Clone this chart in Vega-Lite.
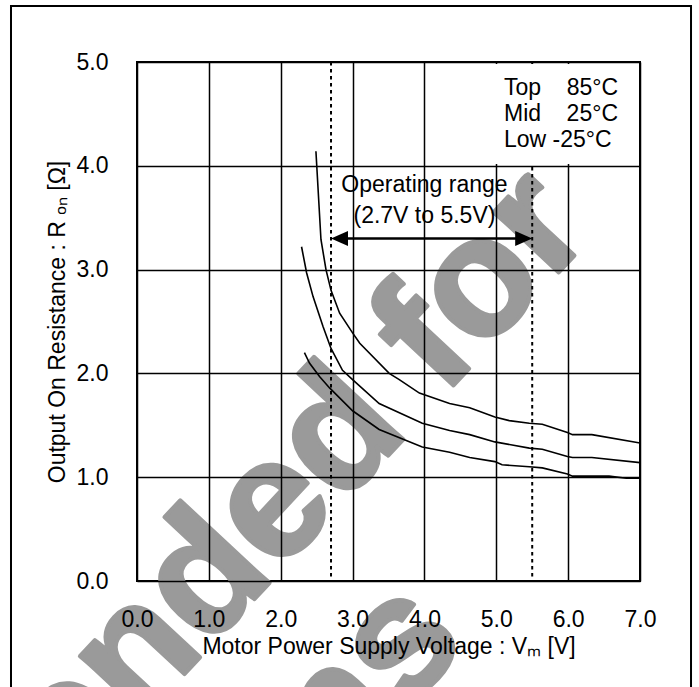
{
  "$schema": "https://vega.github.io/schema/vega-lite/v6.json",
  "width": 503,
  "height": 519,
  "autosize": {"type": "none"},
  "padding": {"left": 137, "top": 62, "right": 59, "bottom": 106},
  "background": "white",
  "config": {
    "font": "Liberation Sans",
    "view": {"stroke": "black", "strokeWidth": 2},
    "text": {"font": "Liberation Sans", "color": "black"}
  },
  "datasets": {
    "curves": [
      {"series": "Top\u00a0\u00a0\u00a0\u00a085°C", "vm": 2.49, "ron": 4.14},
      {"series": "Top\u00a0\u00a0\u00a0\u00a085°C", "vm": 2.56, "ron": 3.29},
      {"series": "Top\u00a0\u00a0\u00a0\u00a085°C", "vm": 2.63, "ron": 3.00},
      {"series": "Top\u00a0\u00a0\u00a0\u00a085°C", "vm": 2.70, "ron": 2.80},
      {"series": "Top\u00a0\u00a0\u00a0\u00a085°C", "vm": 2.82, "ron": 2.58},
      {"series": "Top\u00a0\u00a0\u00a0\u00a085°C", "vm": 3.00, "ron": 2.39},
      {"series": "Top\u00a0\u00a0\u00a0\u00a085°C", "vm": 3.10, "ron": 2.29},
      {"series": "Top\u00a0\u00a0\u00a0\u00a085°C", "vm": 3.51, "ron": 2.00},
      {"series": "Top\u00a0\u00a0\u00a0\u00a085°C", "vm": 3.65, "ron": 1.94},
      {"series": "Top\u00a0\u00a0\u00a0\u00a085°C", "vm": 3.93, "ron": 1.81},
      {"series": "Top\u00a0\u00a0\u00a0\u00a085°C", "vm": 4.35, "ron": 1.71},
      {"series": "Top\u00a0\u00a0\u00a0\u00a085°C", "vm": 4.63, "ron": 1.67},
      {"series": "Top\u00a0\u00a0\u00a0\u00a085°C", "vm": 4.98, "ron": 1.58},
      {"series": "Top\u00a0\u00a0\u00a0\u00a085°C", "vm": 5.18, "ron": 1.545},
      {"series": "Top\u00a0\u00a0\u00a0\u00a085°C", "vm": 5.46, "ron": 1.52},
      {"series": "Top\u00a0\u00a0\u00a0\u00a085°C", "vm": 5.64, "ron": 1.51},
      {"series": "Top\u00a0\u00a0\u00a0\u00a085°C", "vm": 5.99, "ron": 1.43},
      {"series": "Top\u00a0\u00a0\u00a0\u00a085°C", "vm": 6.06, "ron": 1.41},
      {"series": "Top\u00a0\u00a0\u00a0\u00a085°C", "vm": 6.33, "ron": 1.41},
      {"series": "Top\u00a0\u00a0\u00a0\u00a085°C", "vm": 7.00, "ron": 1.33},
      {"series": "Mid\u00a0\u00a0\u00a0\u00a025°C", "vm": 2.29, "ron": 3.22},
      {"series": "Mid\u00a0\u00a0\u00a0\u00a025°C", "vm": 2.36, "ron": 2.97},
      {"series": "Mid\u00a0\u00a0\u00a0\u00a025°C", "vm": 2.45, "ron": 2.74},
      {"series": "Mid\u00a0\u00a0\u00a0\u00a025°C", "vm": 2.59, "ron": 2.45},
      {"series": "Mid\u00a0\u00a0\u00a0\u00a025°C", "vm": 2.70, "ron": 2.24},
      {"series": "Mid\u00a0\u00a0\u00a0\u00a025°C", "vm": 2.86, "ron": 2.03},
      {"series": "Mid\u00a0\u00a0\u00a0\u00a025°C", "vm": 3.00, "ron": 1.94},
      {"series": "Mid\u00a0\u00a0\u00a0\u00a025°C", "vm": 3.37, "ron": 1.71},
      {"series": "Mid\u00a0\u00a0\u00a0\u00a025°C", "vm": 3.97, "ron": 1.52},
      {"series": "Mid\u00a0\u00a0\u00a0\u00a025°C", "vm": 4.35, "ron": 1.45},
      {"series": "Mid\u00a0\u00a0\u00a0\u00a025°C", "vm": 4.63, "ron": 1.41},
      {"series": "Mid\u00a0\u00a0\u00a0\u00a025°C", "vm": 4.98, "ron": 1.34},
      {"series": "Mid\u00a0\u00a0\u00a0\u00a025°C", "vm": 5.46, "ron": 1.28},
      {"series": "Mid\u00a0\u00a0\u00a0\u00a025°C", "vm": 5.64, "ron": 1.27},
      {"series": "Mid\u00a0\u00a0\u00a0\u00a025°C", "vm": 5.99, "ron": 1.20},
      {"series": "Mid\u00a0\u00a0\u00a0\u00a025°C", "vm": 6.06, "ron": 1.19},
      {"series": "Mid\u00a0\u00a0\u00a0\u00a025°C", "vm": 6.33, "ron": 1.19},
      {"series": "Mid\u00a0\u00a0\u00a0\u00a025°C", "vm": 7.00, "ron": 1.14},
      {"series": "Low\u00a0-25°C", "vm": 2.33, "ron": 2.20},
      {"series": "Low\u00a0-25°C", "vm": 2.40, "ron": 2.10},
      {"series": "Low\u00a0-25°C", "vm": 2.54, "ron": 1.97},
      {"series": "Low\u00a0-25°C", "vm": 2.68, "ron": 1.86},
      {"series": "Low\u00a0-25°C", "vm": 3.00, "ron": 1.64},
      {"series": "Low\u00a0-25°C", "vm": 3.37, "ron": 1.46},
      {"series": "Low\u00a0-25°C", "vm": 3.97, "ron": 1.29},
      {"series": "Low\u00a0-25°C", "vm": 4.35, "ron": 1.24},
      {"series": "Low\u00a0-25°C", "vm": 4.63, "ron": 1.19},
      {"series": "Low\u00a0-25°C", "vm": 4.98, "ron": 1.15},
      {"series": "Low\u00a0-25°C", "vm": 5.08, "ron": 1.12},
      {"series": "Low\u00a0-25°C", "vm": 5.46, "ron": 1.10},
      {"series": "Low\u00a0-25°C", "vm": 5.64, "ron": 1.09},
      {"series": "Low\u00a0-25°C", "vm": 5.99, "ron": 1.03},
      {"series": "Low\u00a0-25°C", "vm": 6.06, "ron": 1.01},
      {"series": "Low\u00a0-25°C", "vm": 6.57, "ron": 1.01},
      {"series": "Low\u00a0-25°C", "vm": 6.81, "ron": 0.99},
      {"series": "Low\u00a0-25°C", "vm": 7.00, "ron": 0.99}
    ],
    "limits": [{"v": 2.7}, {"v": 5.5}],
    "one": [{}]
  },
  "layer": [
    {
      "data": {"name": "one"},
      "mark": {"type": "rect", "fill": null, "fillOpacity": 0, "stroke": "black", "strokeWidth": 2, "clip": false},
      "encoding": {
        "x": {"datum": -1.7535, "type": "quantitative"},
        "x2": {"datum": 7.71},
        "y": {"datum": 5.539, "type": "quantitative"},
        "y2": {"datum": -1.2}
      }
    },
    {
      "data": {"name": "one"},
      "mark": {"type": "text", "font": "Liberation Sans", "fontWeight": "bold", "fontSize": 168, "angle": -47, "align": "right", "baseline": "alphabetic", "color": "#9a9a9a", "stroke": "#9a9a9a", "strokeWidth": 4, "strokeJoin": "round"},
      "encoding": {
        "x": {"datum": 6.38, "type": "quantitative"},
        "y": {"datum": 3.35, "type": "quantitative"},
        "text": {"value": "Not Recommended for"}
      }
    },
    {
      "data": {"name": "one"},
      "mark": {"type": "text", "font": "Liberation Sans", "fontWeight": "bold", "fontSize": 168, "angle": -47, "align": "right", "baseline": "alphabetic", "color": "#9a9a9a", "stroke": "#9a9a9a", "strokeWidth": 4, "strokeJoin": "round"},
      "encoding": {
        "x": {"datum": 4.62, "type": "quantitative"},
        "y": {"datum": -0.6, "type": "quantitative"},
        "text": {"value": "New Designs"}
      }
    },
    {
      "data": {"name": "limits"},
      "mark": {"type": "rule", "color": "black", "strokeWidth": 2, "strokeDash": [3.5, 3.5]},
      "encoding": {"x": {"field": "v", "type": "quantitative"}}
    },
    {
      "data": {"name": "curves"},
      "mark": {"type": "line", "strokeWidth": 1.6, "interpolate": "linear"},
      "encoding": {
        "x": {
          "field": "vm", "type": "quantitative",
          "scale": {"domain": [0, 7], "nice": false, "zero": false},
          "axis": {
            "values": [0, 1, 2, 3, 4, 5, 6, 7], "format": ".1f",
            "grid": true, "gridColor": "black", "gridWidth": 1.5, "gridOpacity": 1,
            "domain": false, "ticks": false, "labelFlush": false, "labelOverlap": false,
            "labelFont": "Liberation Sans", "labelFontSize": 23, "labelColor": "black",
            "labelPadding": 27, "labelDx": -5,
            "title": "Motor Power Supply Voltage : V\u2098 [V]",
            "titleFont": "Liberation Sans", "titleFontSize": 23, "titleFontWeight": "normal", "titleColor": "black",
            "titlePadding": 4, "zindex": 1
          }
        },
        "y": {
          "field": "ron", "type": "quantitative",
          "scale": {"domain": [0, 5], "nice": false, "zero": false},
          "axis": {
            "values": [0, 1, 2, 3, 4, 5], "format": ".1f",
            "grid": true, "gridColor": "black", "gridWidth": 1.5, "gridOpacity": 1,
            "domain": false, "ticks": false, "labelFlush": false, "labelOverlap": false,
            "labelFont": "Liberation Sans", "labelFontSize": 23, "labelColor": "black",
            "labelPadding": 29,
            "title": "Output On Resistance : R \u2092\u2099 [Ω]",
            "titleFont": "Liberation Sans", "titleFontSize": 23, "titleFontWeight": "normal", "titleColor": "black",
            "titlePadding": 7, "zindex": 1
          }
        },
        "color": {
          "field": "series", "type": "nominal",
          "scale": {"domain": ["Top\u00a0\u00a0\u00a0\u00a085°C", "Mid\u00a0\u00a0\u00a0\u00a025°C", "Low\u00a0-25°C"], "range": ["black", "black", "black"]},
          "legend": {
            "orient": "none", "legendX": 331, "legendY": 2,
            "title": null, "fillColor": "white", "padding": 12,
            "symbolType": "circle", "symbolSize": 1, "symbolOpacity": 0, "symbolStrokeWidth": 0,
            "labelOffset": 1, "labelFont": "Liberation Sans", "labelFontSize": 23, "labelColor": "black",
            "labelLimit": 300, "rowPadding": 2, "zindex": 2
          }
        }
      }
    },
    {
      "data": {"name": "one"},
      "mark": {"type": "rule", "color": "black", "strokeWidth": 2.5},
      "encoding": {
        "x": {"datum": 2.8, "type": "quantitative"},
        "x2": {"datum": 5.4},
        "y": {"datum": 3.3, "type": "quantitative"}
      }
    },
    {
      "data": {"name": "one"},
      "mark": {"type": "point", "shape": "M0,0L1,-0.44L1,0.44Z", "size": 1156, "filled": true, "color": "black", "opacity": 1, "strokeWidth": 0},
      "encoding": {
        "x": {"datum": 2.7, "type": "quantitative"},
        "y": {"datum": 3.3, "type": "quantitative"}
      }
    },
    {
      "data": {"name": "one"},
      "mark": {"type": "point", "shape": "M0,0L-1,-0.44L-1,0.44Z", "size": 1156, "filled": true, "color": "black", "opacity": 1, "strokeWidth": 0},
      "encoding": {
        "x": {"datum": 5.5, "type": "quantitative"},
        "y": {"datum": 3.3, "type": "quantitative"}
      }
    },
    {
      "data": {"name": "one"},
      "mark": {"type": "text", "fontSize": 23, "align": "center", "baseline": "middle", "color": "black"},
      "encoding": {
        "x": {"datum": 4.0, "type": "quantitative"},
        "y": {"datum": 3.815, "type": "quantitative"},
        "text": {"value": "Operating range"}
      }
    },
    {
      "data": {"name": "one"},
      "mark": {"type": "text", "fontSize": 23, "align": "center", "baseline": "middle", "color": "black"},
      "encoding": {
        "x": {"datum": 4.0, "type": "quantitative"},
        "y": {"datum": 3.52, "type": "quantitative"},
        "text": {"value": "(2.7V to 5.5V)"}
      }
    }
  ]
}
